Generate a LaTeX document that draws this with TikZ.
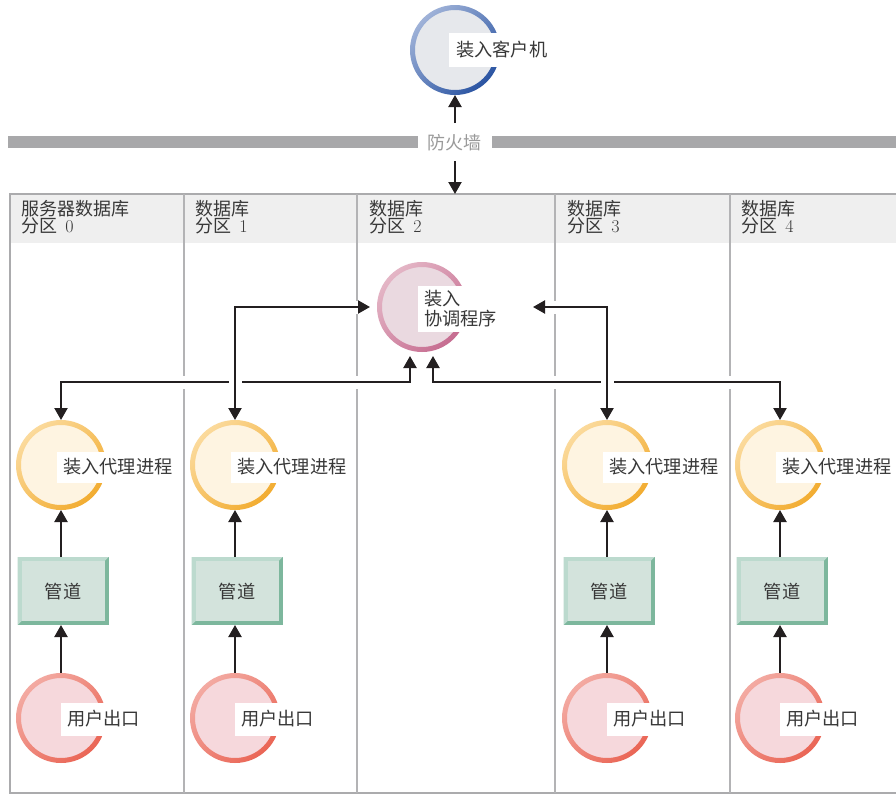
\documentclass[tikz,border=0pt]{standalone}
\usepackage{fontspec}
\newfontfamily\cjk{Noto Sans CJK SC}
\usetikzlibrary{arrows.meta,calc}
\definecolor{linec}{HTML}{231F20}
\definecolor{txt}{HTML}{383838}
\definecolor{boxc}{HTML}{ABABAD}
\definecolor{sepc}{HTML}{B3B3B5}
\definecolor{headc}{HTML}{EFEFEF}
\definecolor{fwc}{HTML}{A8A8AA}
\definecolor{fwtxt}{HTML}{9A9A9A}
\definecolor{agfill}{HTML}{FEF4E1}
\definecolor{aglight}{HTML}{FBDA9C}
\definecolor{agdark}{HTML}{F2AC30}
\definecolor{uefill}{HTML}{F6D8DC}
\definecolor{uelight}{HTML}{F3AAA2}
\definecolor{uedark}{HTML}{EA6555}
\definecolor{cofill}{HTML}{EAD9E0}
\definecolor{colight}{HTML}{E4B6C6}
\definecolor{codark}{HTML}{C66C90}
\definecolor{clfill}{HTML}{E6E8EC}
\definecolor{cllight}{HTML}{9FB2D8}
\definecolor{cldark}{HTML}{2A54A2}
\definecolor{pipefill}{HTML}{D3E3DC}
\definecolor{pipelight}{HTML}{BCDACE}
\definecolor{pipedark}{HTML}{7DB79D}
\newcommand\ringdraw[4]{%
  \fill[#2] (#1.center) circle[radius=41pt];
  \shade[even odd rule, top color=#3, bottom color=#4, shading angle=45] (#1.center) circle[radius=45pt] (#1.center) circle[radius=40pt];
}
\newcommand\pipedraw[2]{%
  \node[pipe] (#1) at (#2) {};
  \fill[pipelight] (#1.north west) -- (#1.north east) -- ($(#1.north east)+(-4,4)$) -- ($(#1.south west)+(4,-4)$) -- (#1.south west) -- cycle;
  \fill[pipefill] ($(#1.north west)+(4,4)$) rectangle ($(#1.south east)+(-4,-4)$);
  \node[pipetxt] (#1t) at ($(#1.center)+(0,1)$) {管道};
}
\begin{document}
\begin{tikzpicture}[x=1pt,y=-1pt,
  spot/.style={circle, minimum size=90pt, inner sep=0pt, outer sep=0pt},
  lbl/.style={fill=white, inner xsep=7pt, inner ysep=0pt, text=txt, font=\cjk\fontsize{18.2}{20}\selectfont, anchor=west},
  head/.style={anchor=north west, inner sep=0pt, align=left, text=txt, font=\cjk\fontsize{18}{17.5}\selectfont},
  pipe/.style={fill=pipedark, minimum width=91pt, minimum height=68pt, inner sep=0pt, outer sep=0pt},
  pipetxt/.style={text=txt, font=\cjk\fontsize{18.2}{20}\selectfont, inner sep=0pt},
  arr/.style={line width=2.2pt, draw=linec, -{Triangle[width=13pt,length=12pt]}},
  conn/.style={line width=2.2pt, draw=linec, {Triangle[width=13pt,length=12pt]}-{Triangle[width=13pt,length=12pt]}, preaction={draw=white, line width=13pt, arrows=-}}
]
\useasboundingbox (0,0) rectangle (896,795);
\clip (0,0) rectangle (896,795);
\fill[white] (0,0) rectangle (896,795);

% frame and header
\fill[headc] (10,194) rectangle (920,243);
\draw[boxc, line width=2.5pt] (10,194) rectangle (920,793);
\foreach \sx in {184,357,555,730} \draw[sepc, line width=2.5pt] (\sx,194) -- (\sx,793);

\node[head] (h0) at (21,200) {服务器数据库\\分区\ \ {\rmfamily 0}};
\node[head] (h1) at (195,200) {数据库\\分区\ \ {\rmfamily 1}};
\node[head] (h2) at (369,200) {数据库\\分区\ \ {\rmfamily 2}};
\node[head] (h3) at (567,200) {数据库\\分区\ \ {\rmfamily 3}};
\node[head] (h4) at (741,200) {数据库\\分区\ \ {\rmfamily 4}};

% firewall
\fill[fwc] (8,136) rectangle (418,148);
\fill[fwc] (492,136) rectangle (900,148);
\node[text=fwtxt, font=\cjk\fontsize{18}{20}\selectfont, inner sep=0pt] (fw) at (454,143) {防火墙};

% node positions
\node[spot] (cl) at (455,50) {};
\node[spot] (co) at (422,307) {};
\node[spot] (ag0) at (61,465) {};
\node[spot] (ag1) at (235,465) {};
\node[spot] (ag3) at (607,465) {};
\node[spot] (ag4) at (780,465) {};
\node[spot] (ue0) at (61,718) {};
\node[spot] (ue1) at (235,718) {};
\node[spot] (ue3) at (607,718) {};
\node[spot] (ue4) at (780,718) {};

\coordinate (fwU) at (455,123);
\coordinate (fwD) at (455,161);
\coordinate (boxtop) at (455,194);
\coordinate (rowB) at (0,382);
\coordinate (coB) at ($(co.south)+(-12,4)$);
\coordinate (coD) at ($(co.south)+(11,4)$);
\coordinate (coA) at ($(co.west)+(-7,0)$);
\coordinate (coC) at ($(co.center)+(111,0)$);

% firewall arrows
\draw[arr] (fwU) -- (cl.south);
\draw[arr] (fwD) -- (boxtop);

% coordinator connectors
\draw[conn] (coB) |- (ag0 |- rowB) -- (ag0.north);
\draw[conn] (coD) |- (ag4 |- rowB) -- (ag4.north);
\draw[conn] (ag1.north) |- (coA);
\draw[conn] (ag3.north) |- (coC);

% pipes
\pipedraw{p0}{63,591}
\pipedraw{p1}{237,591}
\pipedraw{p3}{609,591}
\pipedraw{p4}{782,591}

\foreach \i in {0,1,3,4}{
  \draw[arr] (ag\i |- p\i.north) -- (ag\i.south);
  \draw[arr] (ue\i.north) -- (ue\i |- p\i.south);
}

% circles
\ringdraw{cl}{clfill}{cllight}{cldark}
\ringdraw{co}{cofill}{colight}{codark}
\foreach \i in {0,1,3,4}{
  \ringdraw{ag\i}{agfill}{aglight}{agdark}
  \ringdraw{ue\i}{uefill}{uelight}{uedark}
}

% labels
\node[lbl, minimum height=34pt] (clt) at (449,50) {装入客户机};
\node[lbl, minimum height=46pt, align=left, inner xsep=6pt] (cot) at (418,309) {装入\\协调程序};
\foreach \i in {0,1,3,4}{
  \node[lbl, minimum height=31pt, inner xsep=6pt] (ag\i t) at ($(ag\i.center)+(-4,2)$) {装入代理进程};
  \node[lbl, minimum height=33pt, inner xsep=6pt] (ue\i t) at ($(ue\i.center)+(0,1)$) {用户出口};
}
\end{tikzpicture}
\end{document}
